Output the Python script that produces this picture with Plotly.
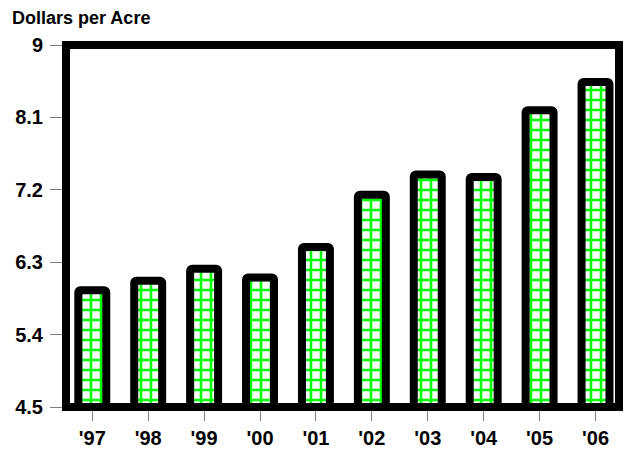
import plotly.graph_objects as go

years = ["'97", "'98", "'99", "'00", "'01", "'02", "'03", "'04", "'05", "'06"]
rent = [5.95, 6.07, 6.22, 6.11, 6.49, 7.14, 7.39, 7.36, 8.19, 8.54]
y_ticks = [4.5, 5.4, 6.3, 7.2, 8.1, 9]
y_tick_text = ["4.5", "5.4", "6.3", "7.2", "8.1", "9"]

FONT = "Liberation Sans, Arial, sans-serif"

fig = go.Figure(
    go.Bar(
        x=years,
        y=rent,
        width=0.5,
        marker=dict(
            color="white",
            line=dict(color="black", width=8),
            cornerradius=2,
            pattern=dict(shape="+", fgcolor="#00ff00", bgcolor="white",
                         size=10, solidity=0.45, fillmode="replace"),
        ),
        hoverinfo="x+y",
    )
)

fig.update_layout(
    width=625,
    height=454,
    margin=dict(l=66, r=6, t=45, b=47),
    paper_bgcolor="white",
    plot_bgcolor="white",
    showlegend=False,
    font=dict(family=FONT, color="black"),
    xaxis=dict(
        type="category",
        range=[-0.47, 9.42],
        showgrid=False,
        zeroline=False,
        showline=False,
        ticks="outside",
        ticklen=13,
        tickcolor="#808080",
        tickwidth=1,
        tickfont=dict(family=FONT, size=20, color="black", weight="bold"),
    ),
    yaxis=dict(
        range=[4.5, 9],
        tickvals=y_ticks,
        ticktext=y_tick_text,
        showgrid=False,
        zeroline=False,
        showline=False,
        ticks="outside",
        ticklen=15,
        tickcolor="#808080",
        tickwidth=1,
        ticklabelstandoff=3,
        tickfont=dict(family=FONT, size=20, color="black", weight="bold"),
    ),
    shapes=[
        dict(type="rect", xref="paper", yref="paper", x0=0, x1=1, y0=0, y1=1,
             line=dict(color="black", width=8), fillcolor="rgba(0,0,0,0)",
             layer="above"),
    ],
    annotations=[
        dict(text="Dollars per Acre", xref="paper", yref="paper",
             x=(10 - 66) / 553, y=(407 - 18) / 362, xanchor="left", yanchor="middle",
             showarrow=False,
             font=dict(family=FONT, size=18, color="black", weight="bold")),
    ],
)

fig.write_html(
    "out.html",
    config={"displayModeBar": False},
    post_script="document.body.style.margin='0';document.body.style.overflow='hidden';",
)
